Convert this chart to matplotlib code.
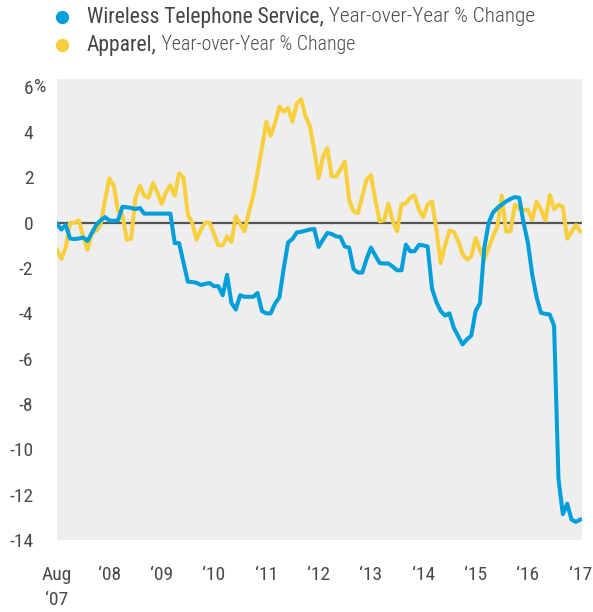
import matplotlib
matplotlib.use("Agg")
import matplotlib.pyplot as plt
from matplotlib import font_manager
from matplotlib.lines import Line2D
import numpy as np

# ---- data (monthly, Aug 2007 .. Aug 2017) ----
wireless = [-0.05,-0.3,-0.1,-0.7,-0.72,-0.7,-0.65,-0.8,-0.45,-0.1,
            0.1,0.25,0.1,0.08,0.1,0.7,0.68,0.65,0.6,0.65,
            0.4,0.4,0.4,0.4,0.4,0.4,0.4,-0.9,-0.9,-1.75,
            -2.6,-2.62,-2.65,-2.75,-2.7,-2.66,-2.8,-2.8,-3.2,-2.3,
            -3.54,-3.83,-3.2,-3.27,-3.27,-3.27,-3.1,-3.9,-4.0,-4.0,
            -3.57,-3.3,-2.0,-0.87,-0.72,-0.43,-0.4,-0.35,-0.3,-0.28,
            -1.07,-0.75,-0.45,-0.5,-0.6,-0.63,-1.05,-1.1,-2.04,-2.2,
            -2.2,-1.6,-1.1,-1.45,-1.78,-1.8,-1.8,-1.94,-2.1,-2.1,
            -0.97,-1.26,-1.26,-0.98,-1.0,-1.05,-2.9,-3.5,-3.9,-4.1,
            -4.0,-4.64,-5.0,-5.37,-5.15,-4.98,-3.9,-3.55,-1.1,0.0,
            0.45,0.65,0.8,0.94,1.05,1.13,1.1,0.0,-0.9,-2.3,
            -3.3,-3.98,-4.02,-4.05,-4.55,-11.3,-12.86,-12.4,-13.1,-13.2,
            -13.1]
apparel = [-1.2,-1.6,-1.1,0.0,0.0,0.1,-0.6,-1.2,-0.45,-0.35,
           -0.1,1.0,1.95,1.65,0.5,0.35,-0.75,-0.7,1.1,1.63,
           1.2,1.1,1.75,1.35,0.83,1.35,1.65,1.2,2.18,2.0,
           0.35,0.0,-0.75,-0.3,0.0,0.0,-0.5,-1.0,-1.0,-0.6,
           -0.85,0.28,-0.05,-0.38,0.45,1.2,2.2,3.3,4.46,3.83,
           4.4,5.12,4.9,5.05,4.46,5.27,5.45,4.7,4.24,3.2,
           1.97,2.92,3.29,2.04,2.04,2.35,2.7,1.0,0.5,0.42,
           1.15,1.9,2.1,1.01,0.06,0.1,0.84,0.06,-0.38,0.8,
           0.85,1.1,1.2,0.57,0.25,0.8,0.94,-0.3,-1.78,-1.0,
           -0.35,-0.4,-0.8,-1.38,-1.63,-1.5,-0.68,-1.2,-1.63,-1.1,
           -0.6,-0.16,1.19,-0.38,-0.38,0.8,0.6,0.57,0.57,0.13,
           0.93,0.57,0.1,1.23,0.6,0.8,0.7,-0.7,-0.4,-0.1,
           -0.38]
months = np.arange(len(wireless))
xtick_pos = [0, 12, 24, 36, 48, 60, 72, 84, 96, 108, 120]
xtick_labels = ["Aug\n\u201807", "\u201808", "\u201809", "\u201810", "\u201811", "\u201812",
                "\u201813", "\u201814", "\u201815", "\u201816", "\u201817"]
ytick_pos = [6, 4, 2, 0, -2, -4, -6, -8, -10, -12, -14]
ytick_labels = [str(v) for v in ytick_pos]
series_names = ["Wireless Telephone Service,", "Apparel,"]
series_suffix = " Year-over-Year % Change"

BLUE = "#009fdb"
YELLOW = "#f8cf3c"
TXT = "#4a4a4a"

avail = {f.name for f in font_manager.fontManager.ttflist}
fam = "DejaVu Sans"
for cand in ["Roboto Condensed", "Liberation Sans Narrow", "Open Sans Condensed", "Roboto", "Liberation Sans"]:
    if cand in avail:
        fam = cand
        break
plt.rcParams["font.family"] = [fam, "DejaVu Sans"]

fig = plt.figure(figsize=(5.93, 6.12), dpi=100)
ax = fig.add_axes([57/593, 1 - 540/612, (582-57)/593, (540-79)/612])
ax.set_facecolor("#eeeeee")
for s in ax.spines.values():
    s.set_visible(False)

ax.axhline(0, color="#555555", lw=1.6, zorder=2)
ax.plot(months, apparel, color=YELLOW, lw=2.9, zorder=3, solid_joinstyle="round")
ax.plot(months, wireless, color=BLUE, lw=2.9, zorder=4, solid_joinstyle="round")

ax.set_xlim(0, 120.4)
ax.set_ylim(-13.96, 6.34)
ax.set_xticks(xtick_pos)
ax.set_xticklabels(xtick_labels, fontsize=14, color=TXT, linespacing=1.45, va="top")
ax.set_yticks(ytick_pos)
ax.set_yticklabels(ytick_labels, fontsize=14, color=TXT)
ax.tick_params(axis="both", length=0)
ax.tick_params(axis="y", pad=17)
ax.tick_params(axis="x", pad=19)
ax.annotate("%", xy=(0, 6), xycoords=("axes fraction", "data"), xytext=(-16.5, 0),
            textcoords="offset points", ha="left", va="center", fontsize=14, color=TXT)

# legend at top
suffix_sizes = [15.3, 14.3]
for i, (name, col) in enumerate(zip(series_names, [BLUE, YELLOW])):
    yf = 1 - (17 + 28*i)/612
    fig.add_artist(Line2D([62/593], [yf], marker="o", ms=8.5, color=col, mec=col,
                          transform=fig.transFigure))
    t = fig.text(87/593, yf, name, fontsize=15.5, color="#444444", va="center", ha="left",
                 fontweight="normal")
    fig.canvas.draw()
    bb = t.get_window_extent()
    fig.text(bb.x1/fig.bbox.width, yf, series_suffix, fontsize=suffix_sizes[i], color=TXT,
             va="center", ha="left", fontweight="light")

fig.savefig("out.png", dpi=100)
